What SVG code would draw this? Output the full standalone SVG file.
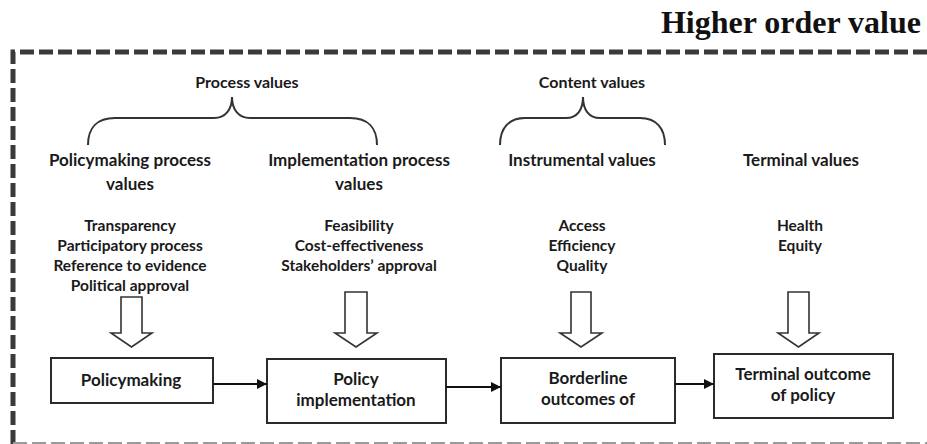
<svg xmlns="http://www.w3.org/2000/svg" width="927" height="444" viewBox="0 0 927 444">
<style>
  .t{font-family:Lato,"Noto Sans",sans-serif;font-weight:bold;fill:#1a1a1a;text-anchor:middle}
  .hd{font-size:17px}
  .ls{font-size:15.5px}
  .gl{font-size:16px}
  .bx{font-size:17px}
  .box{fill:#fff;stroke:#2a2a2a;stroke-width:2}
  .hollow{fill:#fff;stroke:#333;stroke-width:1.6;stroke-linejoin:miter}
  .brace{fill:none;stroke:#333;stroke-width:2}
  .conn{stroke:#111;stroke-width:2;fill:none}
</style>
<defs>
  <marker id="ah" viewBox="0 0 10 10" refX="10" refY="5" markerWidth="10" markerHeight="10" markerUnits="userSpaceOnUse" orient="auto">
    <path d="M0,0 L10,5 L0,10 Z" fill="#111"/>
  </marker>
</defs>
<rect width="927" height="444" fill="#fff"/>

<text x="921" y="33" font-family="'Liberation Serif',serif" font-weight="bold" font-size="32" text-anchor="end" fill="#111">Higher order value</text>

<g id="frame">
  <path d="M13,444 V52 H930" fill="none" stroke="#3a3a3a" stroke-width="5" stroke-dasharray="14 5"/>
  <line x1="13" y1="444" x2="927" y2="444" stroke="#9a9a9a" stroke-width="4" stroke-dasharray="14 5"/>
</g>

<g id="process-values">
  <text class="t gl" x="247" y="88">Process values</text>
  <path class="brace" d="M88,145 C88,128 97,118 115,118 L214,118 C225,118 232,110 232,97 C232,110 239,118 250,118 L350,118 C368,118 377,128 377,145"/>
</g>
<g id="content-values">
  <text class="t gl" x="592" y="88">Content values</text>
  <path class="brace" d="M500,145 C500,128 509,118 525,118 L566,118 C577,118 583,110 583,97 C583,110 589,118 600,118 L640,118 C656,118 665,128 665,145"/>
</g>

<g id="policymaking-values">
  <text class="t hd" x="130" y="166">Policymaking process</text>
  <text class="t hd" x="130" y="190">values</text>
  <text class="t ls" x="130" y="231">Transparency</text>
  <text class="t ls" x="130" y="251">Participatory process</text>
  <text class="t ls" x="130" y="271">Reference to evidence</text>
  <text class="t ls" x="130" y="291">Political approval</text>
  <path class="hollow" d="M121,297 H142 V333 H152 L131.5,347 L111,333 H121 Z"/>
</g>

<g id="implementation-values">
  <text class="t hd" x="359" y="166">Implementation process</text>
  <text class="t hd" x="359" y="190">values</text>
  <text class="t ls" x="359" y="231">Feasibility</text>
  <text class="t ls" x="359" y="251">Cost-effectiveness</text>
  <text class="t ls" x="359" y="271">Stakeholders’ approval</text>
  <path class="hollow" d="M345,292 H367 V333 H377 L356,347 L335,333 H345 Z"/>
</g>

<g id="instrumental-values">
  <text class="t hd" x="582" y="166">Instrumental values</text>
  <text class="t ls" x="582" y="231">Access</text>
  <text class="t ls" x="582" y="251">Efficiency</text>
  <text class="t ls" x="582" y="271">Quality</text>
  <path class="hollow" d="M571,292 H591 V333 H602 L581,347 L560,333 H571 Z"/>
</g>

<g id="terminal-values">
  <text class="t hd" x="801" y="166">Terminal values</text>
  <text class="t ls" x="800" y="231">Health</text>
  <text class="t ls" x="800" y="251">Equity</text>
  <path class="hollow" d="M788,292 H809 V333 H819 L798.5,347 L778,333 H788 Z"/>
</g>

<g id="policymaking">
  <rect class="box" x="51" y="358" width="162" height="45"/>
  <text class="t bx" x="131" y="386">Policymaking</text>
</g>
<g id="policy-implementation">
  <rect class="box" x="267" y="359" width="179" height="64"/>
  <text class="t bx" x="356" y="385">Policy</text>
  <text class="t bx" x="356" y="406">implementation</text>
</g>
<g id="borderline-outcomes">
  <rect class="box" x="501" y="358" width="174" height="65"/>
  <text class="t bx" x="588" y="384">Borderline</text>
  <text class="t bx" x="588" y="405">outcomes of</text>
</g>
<g id="terminal-outcome">
  <rect class="box" x="714" y="354" width="179" height="64"/>
  <text class="t bx" x="803" y="380">Terminal outcome</text>
  <text class="t bx" x="803" y="401">of policy</text>
</g>

<g id="connectors">
  <line class="conn" x1="213" y1="384" x2="267" y2="384" marker-end="url(#ah)"/>
  <line class="conn" x1="446" y1="387" x2="501" y2="387" marker-end="url(#ah)"/>
  <line class="conn" x1="675" y1="384" x2="714" y2="384" marker-end="url(#ah)"/>
</g>
</svg>
